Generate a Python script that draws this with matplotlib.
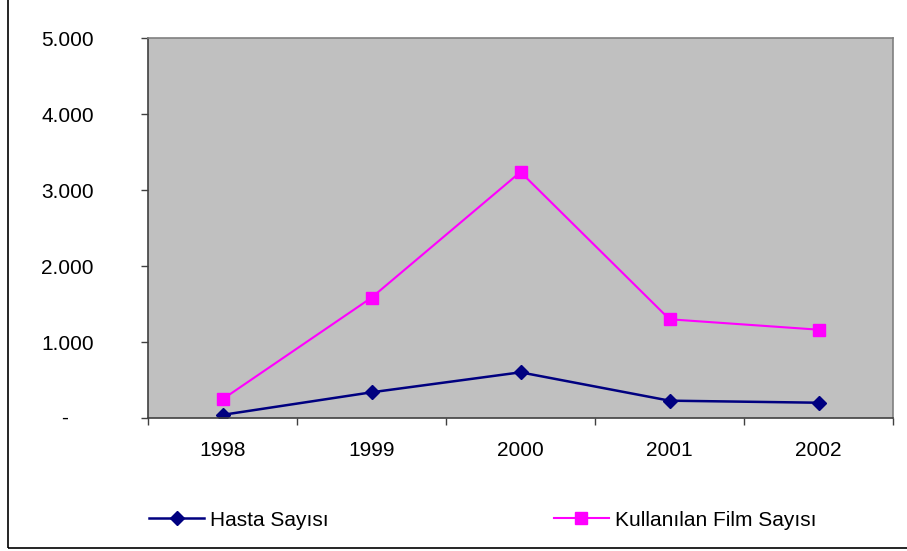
import matplotlib
matplotlib.use("Agg")
import matplotlib.pyplot as plt
from matplotlib.patches import Rectangle

plt.rcParams['font.family'] = ['Liberation Sans', 'DejaVu Sans']

# data
years = ["1998", "1999", "2000", "2001", "2002"]
hasta = [45, 342, 605, 232, 205]
film = [250, 1587, 3241, 1303, 1166]
yticks = [0, 1000, 2000, 3000, 4000, 5000]
ytick_labels = ["", "1.000", "2.000", "3.000", "4.000", "5.000"]
series_names = ["Hasta Sayısı", "Kullanılan Film Sayısı"]

W, H = 907, 551
FS = 15
fig = plt.figure(figsize=(W / 100, H / 100), dpi=100)

# outer chart border (top/right run off the picture)
fig.patches.append(Rectangle((8 / W, 3 / H), 1.2, 1.2, transform=fig.transFigure,
                             fill=False, edgecolor="black", linewidth=1.2))

ax = fig.add_axes([148 / W, (H - 418.3) / H, 745 / W, 380 / H])
ax.set_facecolor("#C0C0C0")

x = list(range(len(years)))
l1, = ax.plot(x, hasta, color="#000080", linewidth=1.8, marker="D", markersize=7,
              label=series_names[0])
l2, = ax.plot(x, film, color="#FF00FF", linewidth=1.5, marker="s", markersize=9,
              label=series_names[1])

ax.set_xlim(-0.5, len(years) - 0.5)
ax.set_ylim(0, 5000)

ax.set_xticks(x)
ax.set_xticklabels(years, fontsize=FS)
ax.set_xticks([i - 0.5 for i in range(len(years) + 1)], minor=True)
ax.tick_params(axis="x", which="major", length=0, pad=16)
ax.tick_params(axis="x", which="minor", length=5, width=1, color="#404040", direction="out")

ax.set_yticks(yticks)
ax.set_yticklabels(ytick_labels, fontsize=FS)
ax.tick_params(axis="y", length=5, width=1, color="#404040", pad=34)
ax.text(-0.112, 0, "-", transform=ax.get_yaxis_transform(), fontsize=FS,
        ha="center", va="center")

for side in ["left", "bottom"]:
    ax.spines[side].set_color("#404040")
    ax.spines[side].set_linewidth(1.2)
for side in ["top", "right"]:
    ax.spines[side].set_color("#808080")
    ax.spines[side].set_linewidth(1.2)

fig.legend(handles=[l1, l2], loc="center left", bbox_to_anchor=(149 / W, (H - 520) / H),
           ncol=2, frameon=False, fontsize=FS, handlelength=2.64, handletextpad=0.3,
           columnspacing=10.8, borderpad=0, borderaxespad=0)

fig.savefig("out.png", dpi=100)
